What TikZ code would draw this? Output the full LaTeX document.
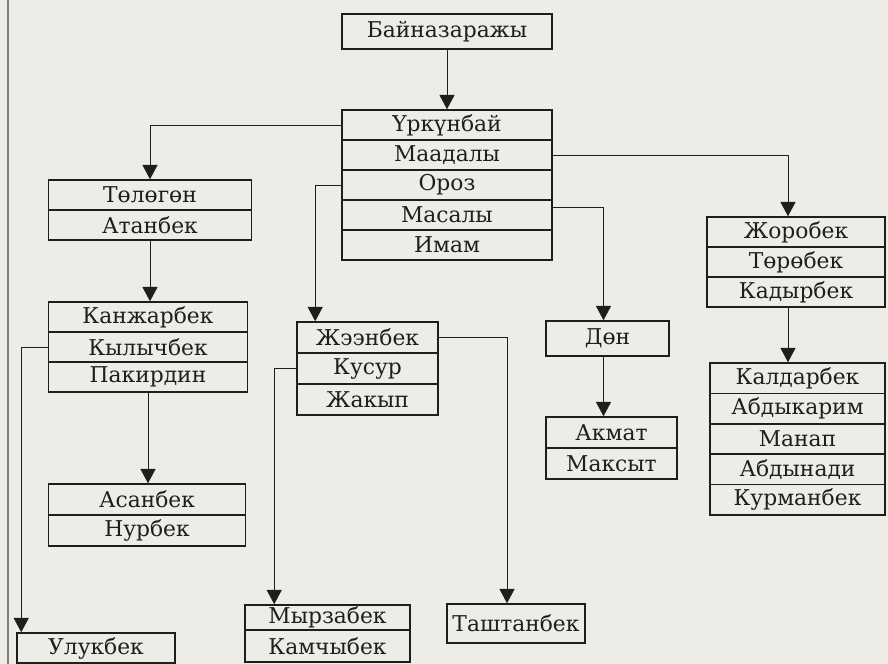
\documentclass[tikz,border=0pt]{standalone}
\usepackage{fontspec}
\setmainfont{DejaVu Serif}
\usepackage{xcolor}
\definecolor{paperGray}{RGB}{237,236,231}
\definecolor{inkBlack}{RGB}{30,30,30}
\usepackage{tikz}
\usetikzlibrary{arrows.meta}
\tikzstyle{namerow}=[rectangle, draw=inkBlack, line width=1.1pt, minimum height=0.75cm, inner sep=0pt, text=inkBlack, font=\fontsize{15.5}{18}\selectfont]
\tikzstyle{kinarrow}=[-{Triangle[width=0.38cm,length=0.36cm]}, line width=0.6pt, color=inkBlack]

\begin{document}
\begin{tikzpicture}[x=0.025cm, y=-0.025cm]
    \useasboundingbox (0,0) rectangle (888,664);
    \fill[paperGray] (0,0) rectangle (888,664);
    \clip (0,0) rectangle (888,664);

    % Margem da página
    \coordinate (edgeTop) at (8,0);
    \coordinate (edgeBot) at (8,664);
    \draw[gray, line width=0.8pt] (edgeTop) -- (edgeBot);

    % Raiz
    \node[namerow, minimum width=5.25cm, minimum height=0.875cm] (bain) at (447, 31.5) {Байназаражы};

    % Filhos
    \foreach \nm/\txt [count=\i from 0] in {urk/Үркүнбай, maad/Маадалы, oroz/Ороз, masaly/Масалы, imam/Имам}
      \node[namerow, minimum width=5.25cm] (\nm) at (447, 125+30*\i) {\txt};

    % Ramo esquerdo
    \foreach \nm/\txt [count=\i from 0] in {tolegon/Төлөгөн, atanbek/Атанбек}
      \node[namerow, minimum width=5.075cm] (\nm) at (150, 195+30*\i) {\txt};
    \foreach \nm/\txt [count=\i from 0] in {kanzh/Канжарбек, kylych/Кылычбек, pakir/Пакирдин}
      \node[namerow, minimum width=4.975cm] (\nm) at (148, 317+30*\i) {\txt};
    \foreach \nm/\txt [count=\i from 0] in {asan/Асанбек, nurbek/Нурбек}
      \node[namerow, minimum width=4.925cm, minimum height=0.775cm] (\nm) at (147, 499.5+31*\i) {\txt};
    \node[namerow, minimum width=3.95cm] (uluk) at (96, 648) {Улукбек};

    % Ramo do meio
    \foreach \nm/\txt [count=\i from 0] in {zheen/Жээнбек, kusur/Кусур, zhakyp/Жакып}
      \node[namerow, minimum width=3.525cm, minimum height=0.775cm] (\nm) at (367.5, 337.5+31*\i) {\txt};
    \node[namerow, minimum width=4.125cm, minimum height=0.625cm] (myrza) at (327.5, 617.5) {Мырзабек};
    \node[namerow, minimum width=4.125cm, minimum height=0.8cm] (kamchy) at (327.5, 646) {Камчыбек};
    \node[namerow, minimum width=3.45cm, minimum height=0.975cm] (tasht) at (516, 623.5) {Таштанбек};

    % Ramo de Masaly
    \node[namerow, minimum width=3.075cm, minimum height=0.875cm] (don) at (607.5, 338.5) {Дөн};
    \foreach \nm/\txt [count=\i from 0] in {akmat/Акмат, maksyt/Максыт}
      \node[namerow, minimum width=3.275cm, minimum height=0.775cm] (\nm) at (611.5, 432.5+31*\i) {\txt};

    % Ramo direito
    \foreach \nm/\txt [count=\i from 0] in {zhorob/Жоробек, torob/Төрөбек, kadyr/Кадырбек}
      \node[namerow, minimum width=4.45cm] (\nm) at (796, 232+30*\i) {\txt};
    \foreach \nm/\txt [count=\i from 0] in {kaldar/Калдарбек, abdykar/Абдыкарим, manap/Манап, abdynad/Абдынади, kurman/Курманбек}
      \node[namerow, minimum width=4.375cm, minimum height=0.76cm] (\nm) at (797.5, 378.2+30.4*\i) {\txt};

    % Setas
    \draw[kinarrow] (bain) -- (urk);
    \draw[kinarrow] (urk.west) -| (tolegon.north);
    \draw[kinarrow] (atanbek.south) -- (atanbek.south |- kanzh.north);
    \draw[kinarrow] (pakir.south) -- (pakir.south |- asan.north);
    \draw[kinarrow] (kylych.west) -| ([xshift=0.125cm]uluk.north west);
    \draw[kinarrow] (oroz.west) -| ([xshift=0.475cm]zheen.north west);
    \draw[kinarrow] (zheen.east) -| ([xshift=-0.225cm]tasht.north);
    \draw[kinarrow] (kusur.west) -| ([xshift=0.75cm]myrza.north west);
    \draw[kinarrow] ([yshift=0.2cm]masaly.east) -| ([xshift=-0.1cm]don.north);
    \draw[kinarrow] ([xshift=-0.1cm]don.south) -- ([xshift=-0.1cm]don.south |- akmat.north);
    \draw[kinarrow] (maad.east) -| ([xshift=-0.2cm]zhorob.north);
    \draw[kinarrow] ([xshift=-0.2cm]kadyr.south) -- ([xshift=-0.2cm]kadyr.south |- kaldar.north);
\end{tikzpicture}
\end{document}
